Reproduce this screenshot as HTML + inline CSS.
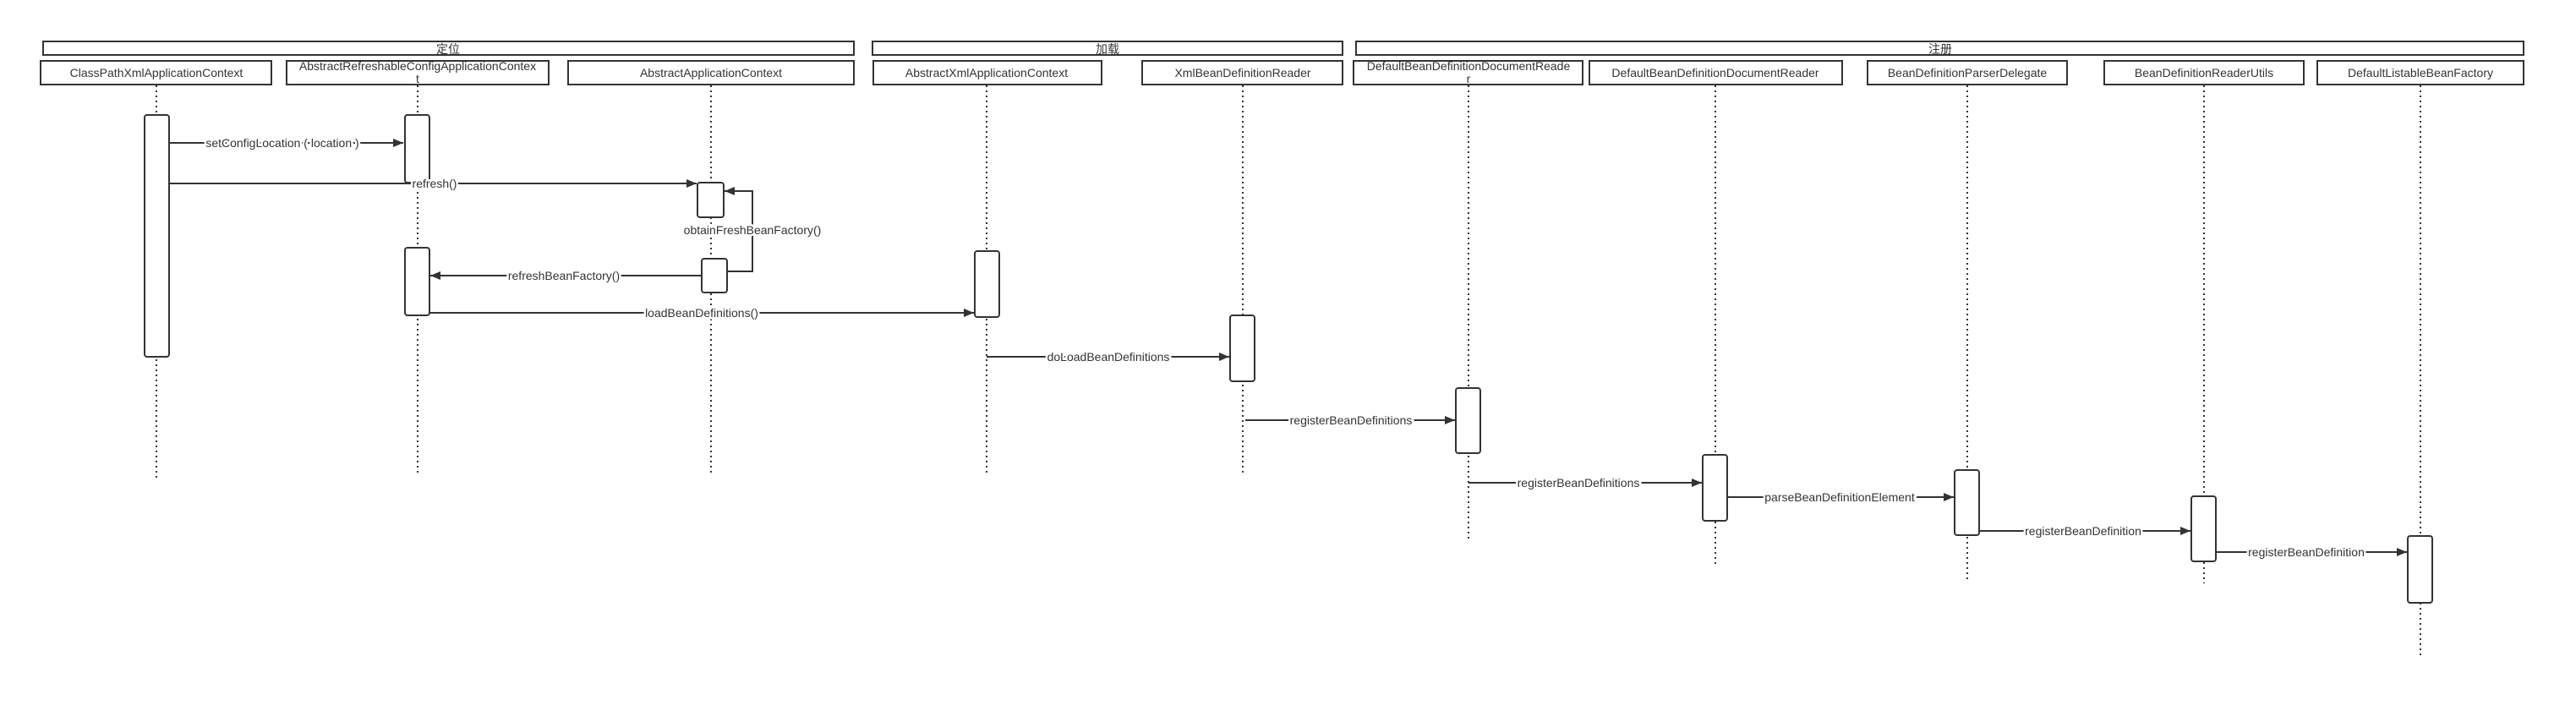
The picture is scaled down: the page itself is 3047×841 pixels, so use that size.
<!DOCTYPE html>
<html><head><meta charset="utf-8"><style>
html,body{margin:0;padding:0;background:#fff;}
svg{display:block;}
text{font-family:"Liberation Sans","Noto Sans CJK SC",sans-serif;font-size:14px;fill:#333;}
.lbl{paint-order:stroke;stroke:#fff;stroke-width:5px;}
</style></head><body>
<svg width="3047" height="841" viewBox="0 0 3047 841" xmlns="http://www.w3.org/2000/svg">
<defs>
<marker id="ar" markerWidth="12" markerHeight="10" refX="12" refY="5" orient="auto" markerUnits="userSpaceOnUse">
<path d="M0,0 L12,5 L0,10 Z" fill="#333"/></marker>
</defs>
<g fill="#fff" stroke="#333" stroke-width="2">
<rect x="51" y="49" width="959" height="16"/>
<rect x="1032" y="49" width="556" height="16"/>
<rect x="1604" y="49" width="1381" height="16"/>
<rect x="48" y="72" width="273" height="28"/>
<rect x="339" y="72" width="310" height="28"/>
<rect x="672" y="72" width="338" height="28"/>
<rect x="1033" y="72" width="270" height="28"/>
<rect x="1351" y="72" width="237" height="28"/>
<rect x="1601" y="72" width="271" height="28"/>
<rect x="1880" y="72" width="299" height="28"/>
<rect x="2209" y="72" width="236" height="28"/>
<rect x="2489" y="72" width="236" height="28"/>
<rect x="2741" y="72" width="244" height="28"/>
</g>
<g text-anchor="middle">
<text x="530" y="63">定位</text>
<text x="1310" y="63">加载</text>
<text x="2295" y="63">注册</text>
<text x="185" y="91">ClassPathXmlApplicationContext</text>
<text x="494" y="83">AbstractRefreshableConfigApplicationContex</text>
<text x="494" y="98">t</text>
<text x="841" y="91">AbstractApplicationContext</text>
<text x="1167" y="91">AbstractXmlApplicationContext</text>
<text x="1470" y="91">XmlBeanDefinitionReader</text>
<text x="1737" y="83">DefaultBeanDefinitionDocumentReade</text>
<text x="1737" y="98">r</text>
<text x="2029" y="91">DefaultBeanDefinitionDocumentReader</text>
<text x="2327" y="91">BeanDefinitionParserDelegate</text>
<text x="2607" y="91">BeanDefinitionReaderUtils</text>
<text x="2863" y="91">DefaultListableBeanFactory</text>
</g>
<g stroke="#333" stroke-width="2" stroke-dasharray="2,4">
<line x1="185" y1="101" x2="185" y2="567"/>
<line x1="494" y1="101" x2="494" y2="563"/>
<line x1="841" y1="101" x2="841" y2="563"/>
<line x1="1167" y1="101" x2="1167" y2="563"/>
<line x1="1470" y1="101" x2="1470" y2="563"/>
<line x1="1737" y1="101" x2="1737" y2="641"/>
<line x1="2029" y1="101" x2="2029" y2="670"/>
<line x1="2327" y1="101" x2="2327" y2="688"/>
<line x1="2607" y1="101" x2="2607" y2="690"/>
<line x1="2863" y1="101" x2="2863" y2="779"/>
</g>
<g fill="#fff" stroke="#333" stroke-width="2">
<rect x="171" y="136" width="29" height="286" rx="3"/>
<rect x="479" y="136" width="29" height="80" rx="3"/>
<rect x="479" y="293" width="29" height="80" rx="3"/>
<rect x="825" y="216" width="31" height="41" rx="3"/>
<rect x="830" y="306" width="30" height="40" rx="3"/>
<rect x="1153" y="297" width="29" height="78" rx="3"/>
<rect x="1455" y="373" width="29" height="78" rx="3"/>
<rect x="1722" y="459" width="29" height="77" rx="3"/>
<rect x="2014" y="538" width="29" height="78" rx="3"/>
<rect x="2312" y="556" width="29" height="77" rx="3"/>
<rect x="2592" y="587" width="29" height="77" rx="3"/>
<rect x="2848" y="634" width="29" height="79" rx="3"/>
</g>
<g stroke="#333" stroke-width="2" fill="none" marker-end="url(#ar)">
<line x1="200" y1="169" x2="477" y2="169"/>
<line x1="200" y1="217" x2="824" y2="217"/>
<polyline points="860,321 890,321 890,226 857,226"/>
<line x1="830" y1="326" x2="509" y2="326"/>
<line x1="508" y1="370" x2="1152" y2="370"/>
<line x1="1167" y1="422" x2="1454" y2="422"/>
<line x1="1473" y1="497" x2="1721" y2="497"/>
<line x1="1737" y1="571" x2="2013" y2="571"/>
<line x1="2043" y1="588" x2="2311" y2="588"/>
<line x1="2341" y1="628" x2="2591" y2="628"/>
<line x1="2621" y1="653" x2="2847" y2="653"/>
</g>
<g class="lbl" text-anchor="middle">
<text class="lbl" x="334" y="174">setConfigLocation ( location )</text>
<text class="lbl" x="514" y="222">refresh()</text>
<text class="lbl" x="890" y="277">obtainFreshBeanFactory()</text>
<text class="lbl" x="667" y="331">refreshBeanFactory()</text>
<text class="lbl" x="830" y="375">loadBeanDefinitions()</text>
<text class="lbl" x="1311" y="427">doLoadBeanDefinitions</text>
<text class="lbl" x="1598" y="502">registerBeanDefinitions</text>
<text class="lbl" x="1867" y="576">registerBeanDefinitions</text>
<text class="lbl" x="2176" y="593">parseBeanDefinitionElement</text>
<text class="lbl" x="2464" y="633">registerBeanDefinition</text>
<text class="lbl" x="2728" y="658">registerBeanDefinition</text>
</g>
</svg>
</body></html>
